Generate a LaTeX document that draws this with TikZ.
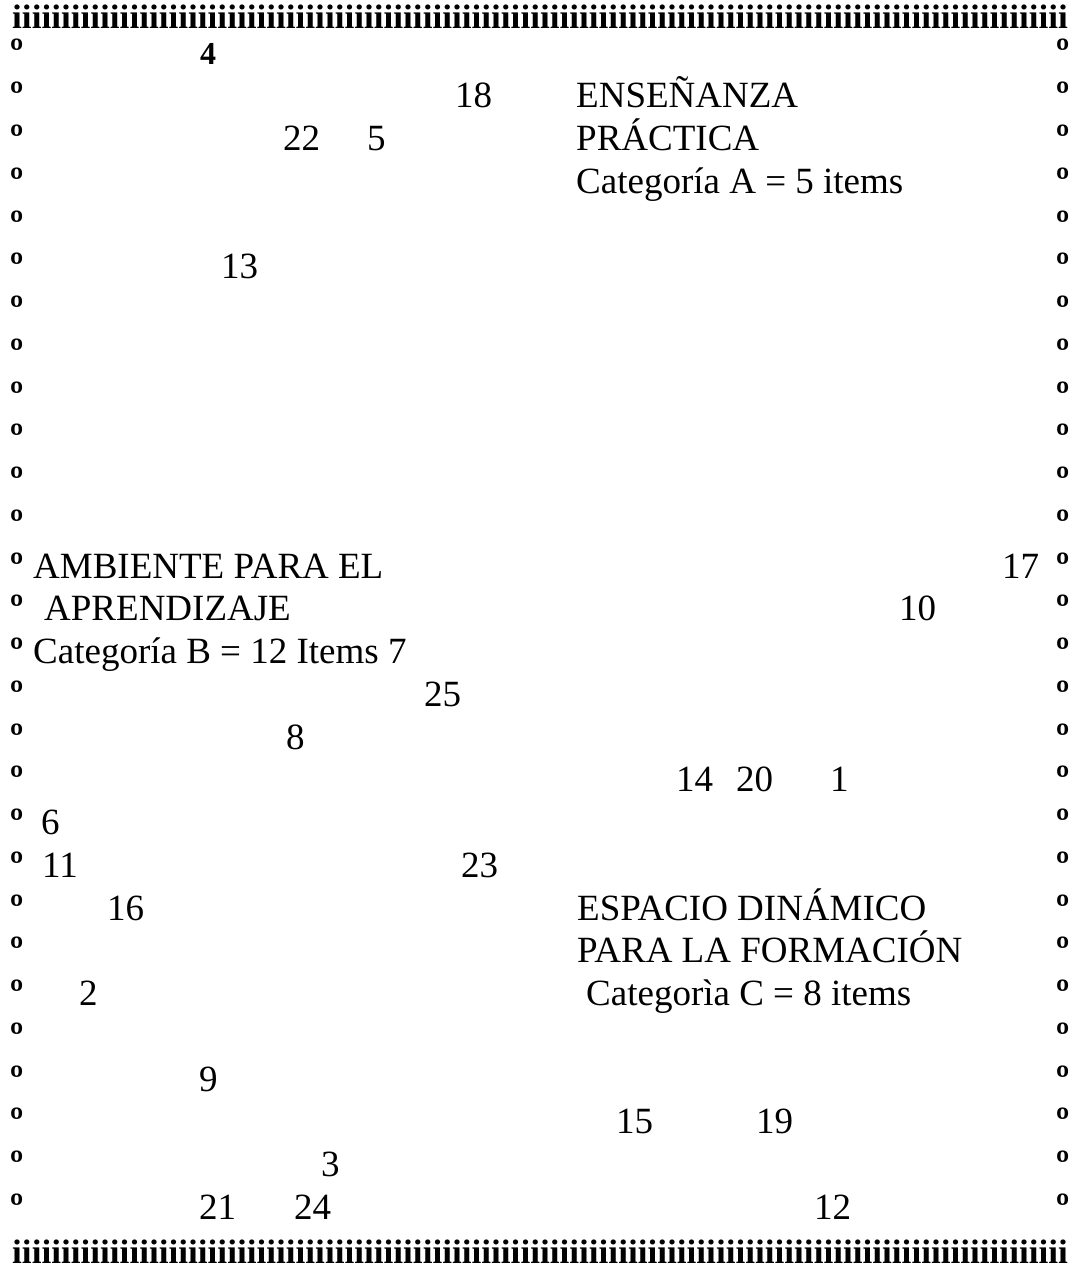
\documentclass[tikz,border=0pt]{standalone}
\usepackage{fontspec}
\usepackage{graphicx}
\setmainfont{Liberation Serif}
\def\tenI{iiiiiiiiii}
\def\allI{\tenI\tenI\tenI\tenI\tenI\tenI\tenI\tenI\tenI\tenI iiiiiiii}
\begin{document}
\begin{tikzpicture}[x=1pt,y=-1pt,
  declare function={ry(\k)=65+(\k-1)*42.75;},
  txt/.style={anchor=base west,inner sep=0pt,font=\fontsize{37}{44}\selectfont\rmfamily},
  bnum/.style={anchor=base west,inner sep=0pt,font=\fontsize{32}{38}\selectfont\rmfamily\bfseries},
  orn/.style={anchor=base west,inner sep=0pt,font=\fontsize{40}{46}\selectfont\rmfamily\bfseries},
  brd/.style={anchor=base west,inner sep=0pt,font=\fontsize{34}{40}\selectfont\rmfamily\bfseries}]
\useasboundingbox (0,0) rectangle (1075,1268);
% borders
\node[brd] (topb) at (12,29) {\resizebox{1055pt}{\height}{\allI}};
\node[brd] (botb) at (12,1263) {\resizebox{1055pt}{\height}{\allI}};
\foreach \k in {1,...,28}{
  \node[orn] (l\k) at (10,{ry(\k)+1}) {º};
  \node[orn] (r\k) at (1056,{ry(\k)+1}) {º};
}
% row 1
\node[bnum] (n4) at (200,{ry(1)}) {4};
% row 2
\node[txt] (n18) at (455,{ry(2)}) {18};
\node[txt] (ta1) at (576,{ry(2)}) {ENSEÑANZA};
% row 3
\node[txt] (n22) at (283,{ry(3)}) {22};
\node[txt] (n5) at (367,{ry(3)}) {5};
\node[txt] (ta2) at (576,{ry(3)}) {PRÁCTICA};
% row 4
\node[txt] (ta3) at (576,{ry(4)}) {Categoría A = 5 items};
% row 6
\node[txt] (n13) at (221,{ry(6)}) {13};
% row 13
\node[txt] (tb1) at (33,{ry(13)}) {AMBIENTE PARA EL};
\node[txt] (n17) at (1002,{ry(13)}) {17};
% row 14
\node[txt] (tb2) at (44,{ry(14)}) {APRENDIZAJE};
\node[txt] (n10) at (899,{ry(14)}) {10};
% row 15
\node[txt] (tb3) at (33,{ry(15)}) {Categoría B = 12 Items 7};
% row 16
\node[txt] (n25) at (424,{ry(16)}) {25};
% row 17
\node[txt] (n8) at (286,{ry(17)}) {8};
% row 18
\node[txt] (n14) at (676,{ry(18)}) {14};
\node[txt] (n20) at (736,{ry(18)}) {20};
\node[txt] (n1) at (830,{ry(18)}) {1};
% row 19
\node[txt] (n6) at (41,{ry(19)}) {6};
% row 20
\node[txt] (n11) at (42,{ry(20)}) {11};
\node[txt] (n23) at (461,{ry(20)}) {23};
% row 21
\node[txt] (n16) at (107,{ry(21)}) {16};
\node[txt] (tc1) at (577,{ry(21)}) {ESPACIO DINÁMICO};
% row 22
\node[txt] (tc2) at (577,{ry(22)}) {PARA LA FORMACIÓN};
% row 23
\node[txt] (n2) at (79,{ry(23)}) {2};
\node[txt] (tc3) at (586,{ry(23)}) {Categorìa C = 8 items};
% row 25
\node[txt] (n9) at (199,{ry(25)}) {9};
% row 26
\node[txt] (n15) at (616,{ry(26)}) {15};
\node[txt] (n19) at (756,{ry(26)}) {19};
% row 27
\node[txt] (n3) at (321,{ry(27)}) {3};
% row 28
\node[txt] (n21) at (199,{ry(28)}) {21};
\node[txt] (n24) at (294,{ry(28)}) {24};
\node[txt] (n12) at (814,{ry(28)}) {12};
\end{tikzpicture}
\end{document}
